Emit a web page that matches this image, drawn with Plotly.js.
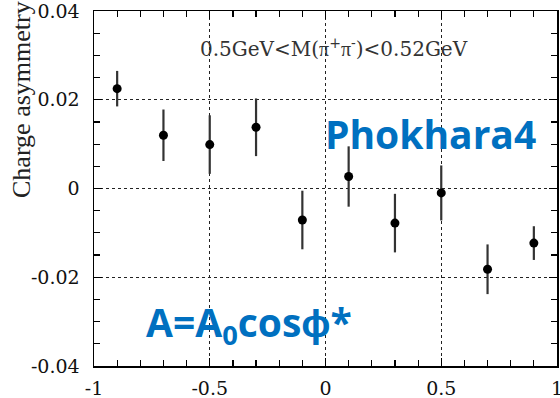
<!DOCTYPE html>
<html>
<head>
<meta charset="utf-8">
<script src="https://cdn.plot.ly/plotly-3.0.1.min.js"></script>
<style>html,body{margin:0;padding:0;background:#fff;}#chart{width:560px;height:398px;}</style>
</head>
<body>
<div id="chart"></div>
<script>
var cosTheta = [-0.9, -0.7, -0.5, -0.3, -0.1, 0.1, 0.3, 0.5, 0.7, 0.9];
var asymmetry = [0.0225, 0.0120, 0.0099, 0.0138, -0.0071, 0.0027, -0.0078, -0.0010, -0.0182, -0.0123];
var asymErr = [0.0040, 0.0058, 0.0066, 0.0065, 0.0066, 0.0068, 0.0066, 0.0062, 0.0056, 0.0038];
var xTicks = [-1, -0.5, 0, 0.5, 1];
var xTickLabels = ['-1', '-0.5', '0', '0.5', '1'];
var yTicks = [-0.04, -0.02, 0, 0.02, 0.04];
var yTickLabels = ['-0.04', '-0.02', '0', '0.02', '0.04'];
var yTitle = 'Charge asymmetry';
var massLabel = '0.5GeV&lt;M(<span style="font-family:Liberation Serif">π</span><sup>+</sup><span style="font-family:Liberation Serif">π</span><sup>-</sup>)&lt;0.52GeV';
var genLabel = 'Phokhara4';
var formulaLabel = 'A=A<sub>0</sub>cosϕ*';

var serif = 'Liberation Serif, Times New Roman, serif';
var tickFont = {family: 'DejaVu Serif, serif', size: 19, color: '#111'};

var trace = {
  x: cosTheta, y: asymmetry, type: 'scatter', mode: 'markers',
  marker: {color: '#000', size: 9},
  error_y: {type: 'data', array: asymErr, visible: true, color: '#333', thickness: 2.2, width: 0},
  hoverinfo: 'none'
};

var axisCommon = {
  showline: true, linecolor: '#000', linewidth: 1.5, mirror: 'allticks',
  ticks: 'inside', ticklen: 8, tickwidth: 1.3, tickcolor: '#000',
  showgrid: true, gridcolor: '#222', gridwidth: 1, griddash: 'dot',
  zeroline: false, tickfont: tickFont, fixedrange: true, ticklabeloverflow: 'allow'
};

var layout = {
  width: 560, height: 398,
  margin: {l: 94, r: 3, t: 11, b: 32},
  paper_bgcolor: '#fff', plot_bgcolor: '#fff',
  showlegend: false,
  xaxis: Object.assign({}, axisCommon, {
    range: [-1, 1], tickmode: 'array', tickvals: xTicks, ticktext: xTickLabels,
    ticklabelstandoff: 5,
    minor: {dtick: 0.1, ticks: 'inside', ticklen: 6, tickwidth: 1.2, tickcolor: '#000', showgrid: false}
  }),
  yaxis: Object.assign({}, axisCommon, {
    range: [-0.04, 0.04], tickmode: 'array', tickvals: yTicks, ticktext: yTickLabels,
    ticklabelstandoff: 9,
    minor: {dtick: 0.005, ticks: 'inside', ticklen: 6, tickwidth: 1.2, tickcolor: '#000', showgrid: false}
  }),
  annotations: [
    {text: yTitle, xref: 'paper', yref: 'paper', x: -0.155, y: 0.75, textangle: -90,
     showarrow: false, xanchor: 'center', yanchor: 'middle',
     font: {family: serif, size: 26, color: '#222'}},
    {text: massLabel, xref: 'x', yref: 'y', x: 0.036, y: 0.0316, showarrow: false,
     xanchor: 'center', yanchor: 'middle', font: {family: 'DejaVu Serif, serif', size: 20, color: '#333'}},
    {text: genLabel, xref: 'x', yref: 'y', x: 0.455, y: 0.0125, showarrow: false,
     xanchor: 'center', yanchor: 'middle', font: {family: 'Open Sans, sans-serif', size: 39, color: '#0070C0', weight: 'bold'}},
    {text: formulaLabel, xref: 'x', yref: 'y', x: -0.331, y: -0.0305, showarrow: false,
     xanchor: 'center', yanchor: 'middle', font: {family: 'Open Sans, sans-serif', size: 39, color: '#0070C0', weight: 'bold'}}
  ]
};

Plotly.newPlot('chart', [trace], layout, {displayModeBar: false, staticPlot: true});
</script>
</body>
</html>
